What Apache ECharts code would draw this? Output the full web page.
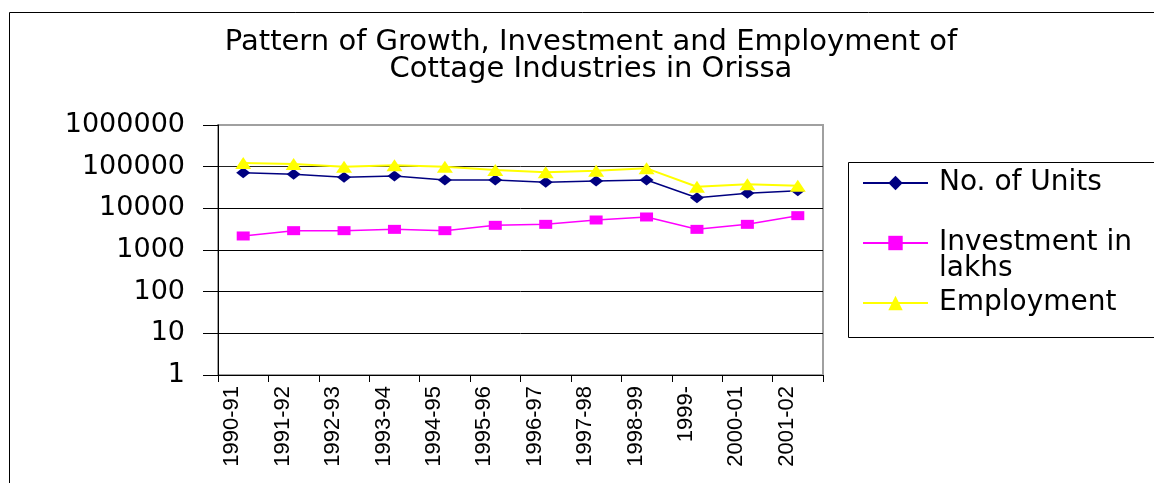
<!DOCTYPE html>
<html>
<head>
<meta charset="utf-8">
<script src="https://cdn.jsdelivr.net/npm/echarts@6/dist/echarts.min.js"></script>
<style>
html,body{margin:0;padding:0;background:#fff;}
#chart{width:1154px;height:483px;}
</style>
</head>
<body>
<div id="chart"></div>
<script>
const titleText = 'Pattern of Growth, Investment and Employment of\nCottage Industries in Orissa';
const categories = ['1990-91','1991-92','1992-93','1993-94','1994-95','1995-96','1996-97','1997-98','1998-99','1999-','2000-01','2001-02'];
const seriesNames = ['No. of Units', 'Investment in lakhs', 'Employment'];
const units      = [71600, 65500, 55500, 59700, 47900, 47900, 42100, 45300, 47900, 18000, 22900, 26500];
const investment = [2170, 2910, 2910, 3130, 2910, 3910, 4130, 5250, 6200, 3130, 4130, 6670];
const employment = [123000, 116000, 100000, 108000, 100000, 83000, 73300, 80000, 91000, 33000, 37700, 35000];
const yMin = 1, yMax = 1000000;

const chart = echarts.init(document.getElementById('chart'));
const option = {
  backgroundColor: '#fff',
  animation: false,
  title: {
    text: titleText,
    left: 591,
    top: 29,
    textAlign: 'center',
    padding: 0,
    textStyle: { fontFamily: 'DejaVu Sans', fontSize: 29, fontWeight: 'normal', color: '#000', lineHeight: 27 }
  },
  graphic: [
    { type: 'rect', shape: { x: 9.5, y: 12.5, width: 1300, height: 700 }, style: { fill: null, stroke: '#000', lineWidth: 1 }, z: -10, silent: true },
    { type: 'rect', shape: { x: 848.5, y: 162.5, width: 400, height: 175 }, style: { fill: '#fff', stroke: '#000', lineWidth: 1 }, z: -5, silent: true }
  ],
  grid: {
    left: 218, right: 331, top: 125, bottom: 108,
    show: true, borderColor: '#a0a0a0', borderWidth: 2, backgroundColor: '#fff'
  },
  legend: {
    data: seriesNames,
    orient: 'vertical',
    left: 862,
    top: 169,
    padding: 0,
    itemGap: 6,
    itemWidth: 65,
    itemHeight: 18,
    selectedMode: false,
    formatter: function (name) { return name === 'Investment in lakhs' ? '\nInvestment in\nlakhs' : name; },
    textStyle: { fontFamily: 'DejaVu Sans', fontSize: 28, color: '#000', lineHeight: 26, padding: [0, 0, 0, 6] }
  },
  xAxis: {
    type: 'category',
    data: categories,
    boundaryGap: true,
    axisLine: { lineStyle: { color: '#000', width: 1 } },
    axisTick: { show: true, length: 7, lineStyle: { color: '#000' } },
    axisLabel: {
      rotate: 90, interval: 0, margin: 11,
      verticalAlign: 'bottom',
      fontFamily: 'Liberation Sans', fontSize: 22, color: '#000'
    },
    splitLine: { show: false }
  },
  yAxis: {
    type: 'log',
    logBase: 10,
    min: yMin,
    max: yMax,
    splitNumber: 6,
    axisLine: { show: true, lineStyle: { color: '#000', width: 1 } },
    axisTick: { show: true, length: 15, lineStyle: { color: '#000' } },
    axisLabel: {
      margin: 33,
      fontFamily: 'DejaVu Sans', fontSize: 27, color: '#000',
      formatter: function (v) { return String(Math.round(v)); }
    },
    splitLine: { show: true, lineStyle: { color: ['#000', '#000', '#000', '#000', '#000', '#222', '#a0a0a0'], width: 1 } }
  },
  series: [
    {
      name: seriesNames[0], type: 'line', data: units,
      symbol: 'diamond', symbolSize: [14, 11],
      lineStyle: { color: '#000080', width: 1.5 },
      itemStyle: { color: '#000080' }
    },
    {
      name: seriesNames[1], type: 'line', data: investment,
      symbol: 'rect', symbolSize: [13, 9],
      lineStyle: { color: '#ff00ff', width: 1.5 },
      itemStyle: { color: '#ff00ff' }
    },
    {
      name: seriesNames[2], type: 'line', data: employment,
      symbol: 'triangle', symbolSize: [16, 12],
      lineStyle: { color: '#ffff00', width: 2 },
      itemStyle: { color: '#ffff00' }
    }
  ]
};
chart.setOption(option);
</script>
</body>
</html>
